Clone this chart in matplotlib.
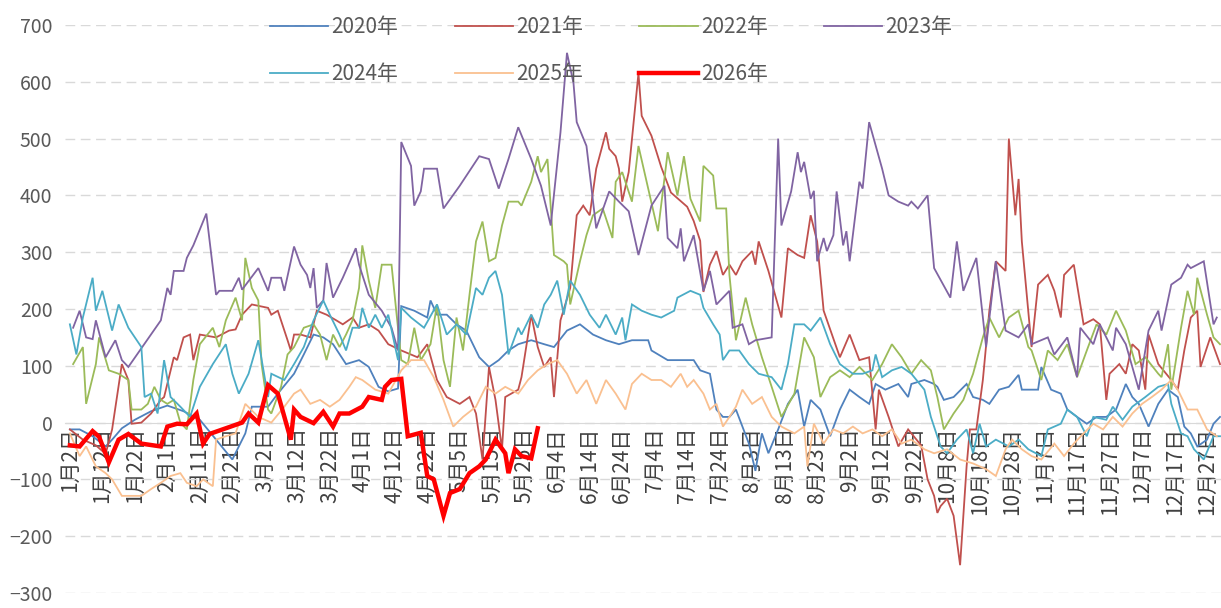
import matplotlib.pyplot as plt

plt.rcParams['font.family'] = ['Noto Sans CJK SC', 'DejaVu Sans']

# category axis: one slot per day, a label every 10 slots
tick_pos = list(range(0, 360, 10))
tick_labels = ['1月2日', '1月12日', '1月22日', '2月1日', '2月11日', '2月21日',
               '3月2日', '3月12日', '3月22日', '4月1日', '4月12日', '4月22日',
               '5月5日', '5月15日', '5月25日', '6月4日', '6月14日', '6月24日',
               '7月4日', '7月14日', '7月24日', '8月3日', '8月13日', '8月23日',
               '9月2日', '9月12日', '9月22日', '10月8日', '10月18日', '10月28日',
               '11月7日', '11月17日', '11月27日', '12月7日', '12月17日', '12月27日']

# (day slot, value)
d2020 = [(0, -12), (3, -12), (7, -24), (11, -42), (13, -30), (16, -10), (20, 5), (25, 20), (30, 30),
         (35, 20), (40, 5), (45, -30), (50, -65), (54, -19), (56, 28), (61, 28), (64, 51), (69, 86),
         (72, 120), (75, 155), (78, 150), (81, 138), (85, 103), (89, 110), (92, 98), (95, 63), (98, 55),
         (101, 60), (102, 205), (106, 197), (110, 185), (111, 215), (113, 190), (116, 190), (119, 173),
         (122, 162), (126, 115), (129, 98), (132, 110), (135, 127), (138, 138), (142, 145), (146, 138),
         (149, 133), (153, 162), (157, 173), (161, 155), (165, 145), (169, 138), (173, 145), (178, 145),
         (179, 127), (184, 110), (188, 110), (192, 110), (194, 92), (197, 86), (199, 23), (201, 10),
         (203, 10), (205, 23), (207, -7), (209, -37), (211, -85), (213, -19), (215, -54), (218, -12),
         (221, 33), (224, 58), (226, -7), (228, 40), (231, 23), (234, -24), (237, 23), (240, 58),
         (243, 45), (246, 33), (248, 68), (251, 58), (255, 68), (258, 45), (259, 68), (263, 75),
         (266, 68), (267, 63), (269, 40), (272, 45), (276, 68), (278, 45), (281, 40), (283, 33),
         (286, 58), (289, 63), (292, 84), (293, 58), (298, 58), (299, 98), (302, 58), (305, 51),
         (307, 23), (310, 10), (313, -2), (316, 10), (319, 10), (322, 23), (325, 68), (327, 45),
         (329, 33), (332, -7), (335, 33), (338, 58), (341, 45), (343, -7), (345, -19), (347, -42),
         (350, -30), (352, -2), (354, 10)]

d2021 = [(0, -12), (4, -30), (8, -40), (11, -55), (13, -12), (16, 103), (18, 75), (19, -2), (22, 0),
         (25, 16), (28, 40), (29, 45), (32, 115), (33, 110), (35, 150), (37, 155), (38, 110), (40, 155),
         (45, 150), (49, 162), (51, 164), (53, 190), (56, 208), (61, 202), (62, 190), (64, 197),
         (67, 145), (68, 127), (69, 155), (71, 155), (74, 150), (76, 197), (79, 190), (82, 180),
         (84, 173), (87, 185), (89, 167), (92, 173), (95, 162), (98, 138), (102, 127), (107, 115),
         (110, 138), (113, 75), (116, 45), (120, 33), (123, 45), (125, 16), (127, -65), (129, 98),
         (131, 40), (133, -47), (134, 45), (138, 58), (139, 80), (142, 190), (144, 133), (146, 98),
         (148, 115), (149, 45), (151, 180), (154, 237), (156, 365), (158, 382), (160, 365), (162, 447),
         (165, 511), (166, 482), (168, 469), (169, 447), (170, 389), (172, 441), (175, 615), (176, 540),
         (179, 505), (182, 450), (185, 405), (190, 380), (192, 355), (194, 320), (195, 230), (197, 278),
         (199, 302), (201, 260), (203, 278), (205, 260), (207, 284), (210, 302), (211, 278), (212, 319),
         (215, 267), (219, 185), (221, 307), (224, 295), (226, 290), (228, 365), (230, 319), (232, 197),
         (237, 115), (240, 155), (243, 110), (246, 115), (248, -12), (249, 58), (252, 10), (255, -42),
         (258, -12), (262, -40), (264, -100), (266, -129), (267, -159), (268, -147), (270, -134),
         (272, -164), (274, -251), (276, -77), (277, -12), (279, -12), (281, 75), (283, 197), (285, 284),
         (288, 267), (289, 500), (291, 365), (292, 429), (293, 319), (296, 133), (298, 243), (301, 260),
         (303, 232), (305, 185), (306, 260), (309, 278), (312, 173), (315, 182), (317, 173), (319, 40),
         (320, 86), (323, 103), (325, 86), (327, 138), (329, 127), (331, 58), (332, 155), (335, 103),
         (339, 75), (341, 58), (343, 127), (345, 185), (347, 197), (348, 98), (351, 150), (354, 103)]

d2022 = [(1, 103), (4, 133), (5, 33), (8, 103), (9, 150), (12, 92), (15, 86), (18, 75), (19, 23), (22, 23),
         (24, 33), (26, 63), (28, 40), (30, 33), (32, 40), (34, 0), (36, -12), (38, 75), (40, 138),
         (44, 167), (46, 133), (48, 180), (51, 220), (53, 180), (54, 290), (56, 237), (58, 215), (59, 103),
         (61, 23), (62, 16), (65, 63), (67, 120), (69, 133), (72, 167), (75, 173), (77, 155), (79, 110),
         (81, 155), (83, 133), (85, 155), (87, 180), (89, 237), (90, 312), (92, 250), (94, 202), (96, 278),
         (99, 278), (102, 110), (104, 103), (106, 167), (108, 110), (111, 138), (113, 208), (115, 110),
         (117, 63), (119, 185), (121, 127), (123, 225), (125, 319), (127, 354), (129, 284), (131, 290),
         (133, 347), (135, 389), (138, 389), (139, 382), (142, 424), (144, 469), (145, 441), (147, 464),
         (149, 295), (152, 284), (153, 278), (154, 208), (157, 284), (159, 330), (161, 365), (164, 377),
         (167, 325), (168, 424), (170, 441), (173, 389), (175, 487), (178, 412), (181, 337), (184, 476),
         (187, 400), (189, 469), (191, 394), (194, 354), (195, 452), (198, 435), (199, 377), (202, 377),
         (203, 260), (205, 145), (208, 220), (210, 173), (213, 115), (216, 63), (219, 10), (223, 51),
         (226, 150), (229, 115), (231, 45), (234, 80), (237, 92), (240, 80), (243, 98), (247, 75),
         (250, 103), (253, 138), (256, 115), (259, 86), (262, 110), (265, 92), (267, 45), (269, -12),
         (272, 16), (275, 40), (278, 86), (281, 150), (283, 185), (286, 150), (289, 185), (292, 197),
         (295, 133), (296, 127), (299, 75), (301, 127), (304, 110), (307, 138), (310, 80), (313, 127),
         (316, 173), (319, 155), (322, 197), (325, 162), (328, 103), (331, 115), (335, 86), (336, 80),
         (338, 138), (339, 58), (342, 167), (344, 232), (346, 190), (347, 255), (350, 190), (352, 150),
         (354, 138)]

d2023 = [(1, 167), (3, 197), (5, 150), (7, 147), (8, 180), (11, 115), (14, 145), (16, 110), (18, 98),
         (28, 180), (30, 237), (31, 225), (32, 267), (35, 267), (36, 290), (38, 312), (42, 368), (45, 225),
         (46, 232), (50, 232), (52, 255), (53, 234), (58, 272), (61, 232), (62, 255), (65, 255), (66, 232),
         (69, 310), (71, 278), (73, 260), (74, 237), (75, 272), (76, 202), (78, 215), (79, 281), (81, 220),
         (84, 255), (88, 307), (89, 278), (92, 225), (94, 211), (96, 197), (99, 167), (101, 127),
         (102, 494), (105, 452), (106, 382), (108, 407), (109, 447), (113, 447), (115, 377), (120, 417),
         (126, 469), (129, 464), (132, 412), (135, 464), (138, 520), (142, 464), (145, 417), (148, 347),
         (151, 511), (153, 651), (155, 598), (156, 529), (159, 487), (162, 342), (166, 407), (169, 389),
         (172, 372), (175, 295), (179, 382), (183, 417), (184, 325), (187, 307), (188, 342), (189, 284),
         (192, 330), (195, 232), (197, 267), (199, 208), (203, 232), (204, 167), (207, 173), (209, 138),
         (211, 145), (216, 150), (218, 500), (219, 347), (222, 407), (224, 476), (225, 441), (226, 459),
         (228, 394), (229, 408), (230, 284), (232, 325), (233, 302), (235, 330), (236, 407), (238, 312),
         (239, 337), (240, 284), (243, 424), (244, 412), (246, 529), (250, 447), (252, 400), (255, 389),
         (258, 382), (259, 389), (261, 377), (264, 400), (266, 272), (271, 220), (273, 319), (275, 232),
         (279, 290), (282, 133), (285, 284), (288, 162), (292, 150), (295, 173), (296, 138), (301, 150),
         (303, 120), (307, 150), (310, 80), (311, 167), (315, 138), (317, 173), (321, 127), (322, 167),
         (325, 138), (327, 98), (329, 58), (332, 162), (335, 197), (336, 162), (339, 243), (342, 255),
         (344, 278), (345, 272), (349, 284), (352, 173), (353, 185)]

d2024 = [(0, 173), (2, 120), (4, 185), (7, 255), (8, 197), (10, 232), (13, 162), (15, 208), (18, 167),
         (22, 133), (23, 45), (25, 51), (27, 16), (29, 110), (31, 45), (34, 28), (37, 10), (40, 63),
         (44, 103), (48, 138), (50, 86), (52, 51), (55, 86), (58, 145), (61, 45), (62, 86), (66, 75),
         (69, 103), (72, 133), (75, 180), (78, 215), (80, 190), (83, 155), (85, 127), (87, 167), (89, 167),
         (90, 202), (92, 167), (94, 190), (96, 167), (98, 190), (101, 110), (102, 202), (105, 185),
         (109, 167), (113, 208), (116, 155), (119, 173), (122, 155), (125, 237), (127, 225), (129, 255),
         (131, 267), (133, 225), (135, 120), (138, 167), (139, 155), (142, 190), (144, 167), (146, 208),
         (148, 225), (150, 250), (152, 190), (154, 250), (157, 225), (160, 190), (163, 167), (165, 190),
         (168, 155), (170, 185), (171, 145), (173, 208), (176, 197), (179, 190), (182, 185), (186, 197),
         (187, 220), (191, 232), (194, 225), (195, 202), (198, 173), (200, 155), (201, 110), (203, 127),
         (206, 127), (209, 103), (212, 86), (216, 80), (219, 58), (221, 103), (223, 173), (226, 173),
         (228, 162), (231, 185), (234, 138), (237, 103), (241, 86), (244, 86), (247, 92), (248, 120),
         (250, 80), (253, 92), (256, 98), (259, 86), (263, 58), (265, 10), (268, -42), (270, -54),
         (273, -30), (276, -12), (278, -54), (280, -2), (282, -42), (285, -30), (289, -42), (292, -30),
         (295, -47), (299, -59), (301, -12), (305, -2), (307, 23), (310, 10), (313, -24), (315, 10),
         (319, 5), (321, 28), (324, 5), (327, 28), (331, 45), (335, 63), (338, 68), (339, 33), (342, -19),
         (344, -24), (346, -47), (349, -65), (352, -24), (354, -24)]

d2025 = [(0, -19), (3, -59), (5, -42), (8, -77), (11, -89), (13, -100), (16, -129), (22, -129), (25, -117),
         (28, -106), (31, -94), (34, -89), (36, -106), (39, -112), (41, -100), (44, -112), (45, -30),
         (48, -24), (51, -19), (54, 33), (58, 10), (62, 0), (66, 28), (69, 51), (71, 58), (74, 33), (77, 40),
         (80, 28), (83, 40), (86, 63), (88, 80), (90, 75), (94, 58), (98, 51), (102, 92), (105, 110),
         (109, 110), (112, 80), (115, 40), (118, -7), (121, 10), (125, 28), (128, 63), (131, 51), (134, 63),
         (138, 51), (141, 75), (144, 92), (147, 103), (150, 110), (153, 86), (156, 51), (159, 75), (162, 33),
         (165, 75), (168, 51), (171, 23), (173, 68), (176, 86), (179, 75), (182, 75), (185, 63), (188, 86),
         (190, 63), (192, 75), (195, 51), (197, 23), (199, 33), (201, -7), (203, 10), (205, 28), (207, 58),
         (210, 33), (213, 45), (216, 10), (219, -7), (223, -19), (226, -7), (227, -77), (229, -2),
         (232, -37), (235, -12), (238, -19), (241, -7), (244, -19), (247, -12), (250, -24), (253, -12),
         (256, -37), (259, -30), (263, -47), (266, -54), (270, -47), (274, -65), (278, -72), (282, -82),
         (285, -94), (288, -47), (290, -30), (293, -47), (296, -59), (299, -65), (303, -37), (306, -59),
         (309, -37), (312, -19), (315, -2), (318, -12), (321, 10), (324, -7), (327, 16), (330, 33),
         (333, 45), (336, 58), (339, 75), (341, 58), (344, 23), (347, 23), (350, -12), (353, -24)]

d2026 = [(0, -40), (3, -42), (7, -15), (9, -25), (12, -70), (15, -30), (18, -20), (22, -37), (28, -42),
         (30, -7), (33, -2), (36, -3), (39, 16), (41, -37), (43, -20), (53, 0), (55, 16), (58, 0), (61, 66),
         (64, 51), (68, -30), (69, 23), (71, 10), (75, -1), (78, 19), (81, -7), (83, 16), (86, 16), (90, 28),
         (92, 45), (96, 40), (97, 63), (99, 75), (102, 77), (104, -24), (108, -18), (110, -94), (112, -100),
         (115, -164), (117, -124), (120, -117), (123, -89), (126, -77), (128, -65), (131, -30), (134, -54),
         (135, -89), (137, -47), (139, -59), (142, -63), (144, -10)]

series = [
    ('2020年', d2020, '#4F81BD', 1.3),
    ('2021年', d2021, '#C0504D', 1.3),
    ('2022年', d2022, '#9BBB59', 1.3),
    ('2023年', d2023, '#8064A2', 1.3),
    ('2024年', d2024, '#4BACC6', 1.3),
    ('2025年', d2025, '#FAC090', 1.3),
    ('2026年', d2026, '#FF0000', 3.2),
]

fig = plt.figure(figsize=(12.21, 6.08), dpi=100)
ax = fig.add_axes([65 / 1221, 15 / 608, 1156 / 1221, 568 / 608])

handles = {}
for name, pts, color, lw in series:
    xs = [p[0] for p in pts]
    ys = [p[1] for p in pts]
    h, = ax.plot(xs, ys, color=color, lw=lw, label=name, solid_joinstyle='miter')
    handles[name] = h

ax.set_xlim(-1.5, 354.3)
ax.set_ylim(-300, 700)
ax.set_yticks(range(-300, 701, 100))
ax.yaxis.grid(True, color='#D9D9D9', linestyle=(0, (7, 4)), lw=1)
ax.set_axisbelow(True)

for s in ['top', 'right', 'left']:
    ax.spines[s].set_visible(False)
ax.spines['bottom'].set_position(('data', 0))
ax.spines['bottom'].set_color('#D9D9D9')
ax.spines['bottom'].set_zorder(1)

ax.set_xticks(tick_pos)
ax.set_xticklabels(tick_labels, rotation=90, fontsize=15, color='#404040')
ax.tick_params(axis='x', length=0, pad=3)
ax.tick_params(axis='y', length=0, pad=9, labelsize=14, labelcolor='#595959')

# legend filled row by row: 4 on top, 3 below
order = ['2020年', '2024年', '2021年', '2025年', '2022年', '2026年', '2023年']
fig.legend([handles[k] for k in order], order, ncol=4, loc='upper left',
           bbox_to_anchor=(270 / 1221, 1 - 16 / 608), frameon=False, fontsize=15,
           handlelength=2.8, handletextpad=0.15, columnspacing=2.7, labelspacing=1.2,
           borderpad=0, borderaxespad=0, labelcolor='#595959')

fig.savefig('out.png', dpi=100)
